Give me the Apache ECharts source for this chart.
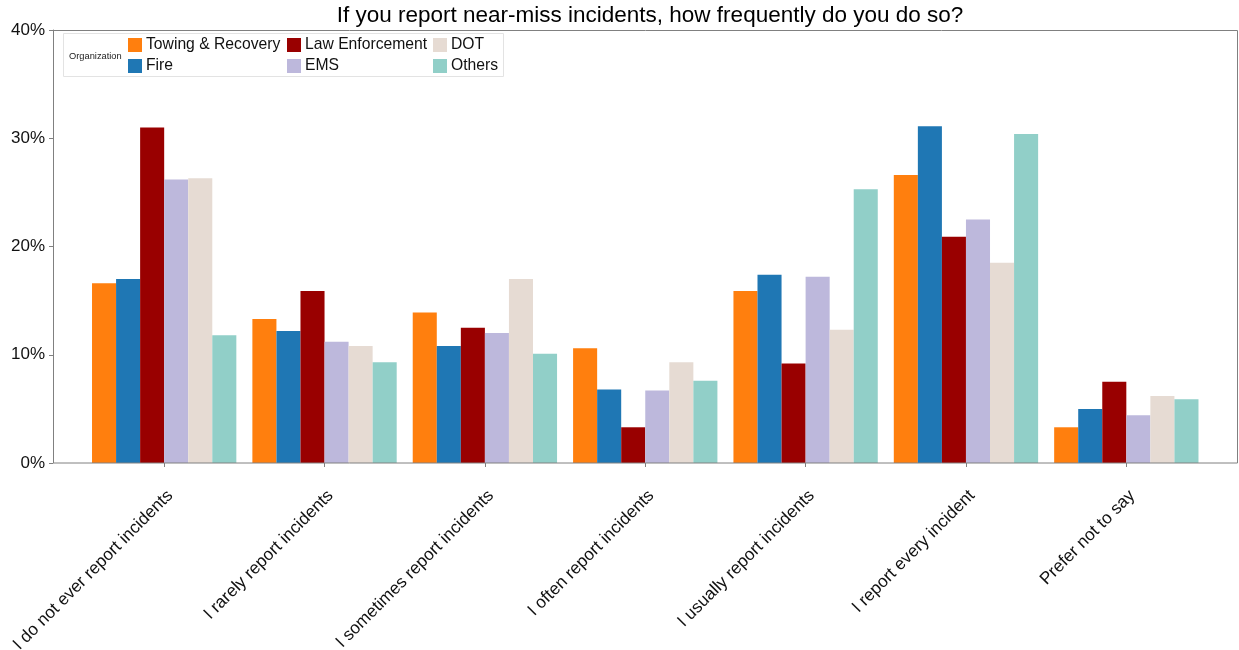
<!DOCTYPE html>
<html>
<head>
<meta charset="utf-8">
<script src="https://cdn.jsdelivr.net/npm/echarts@6.0.0/dist/echarts.min.js"></script>
<style>
  html, body { margin: 0; padding: 0; background: #fff; }
  #chart { width: 1239px; height: 650px; }
</style>
</head>
<body>
<div id="chart"></div>
<script>
const categories = [
  'I do not ever report incidents',
  'I rarely report incidents',
  'I sometimes report incidents',
  'I often report incidents',
  'I usually report incidents',
  'I report every incident',
  'Prefer not to say',
];

// percent values
const towing = [16.6, 13.3, 13.9, 10.6, 15.9, 26.6, 3.3];
const fire = [17.0, 12.2, 10.8, 6.8, 17.4, 31.1, 5.0];
const lawEnforcement = [31.0, 15.9, 12.5, 3.3, 9.2, 20.9, 7.5];
const ems = [26.2, 11.2, 12.0, 6.7, 17.2, 22.5, 4.4];
const dot = [26.3, 10.8, 17.0, 9.3, 12.3, 18.5, 6.2];
const others = [11.8, 9.3, 10.1, 7.6, 25.3, 30.4, 5.9];

const yTicks = [0, 10, 20, 30, 40];

const seriesDefs = [
  { name: 'Towing & Recovery', data: towing, color: '#ff7f0e' },
  { name: 'Fire', data: fire, color: '#1f77b4' },
  { name: 'Law Enforcement', data: lawEnforcement, color: '#990000' },
  { name: 'EMS', data: ems, color: '#bdb8dc' },
  { name: 'DOT', data: dot, color: '#e6dbd3' },
  { name: 'Others', data: others, color: '#91cfc8' },
];

const font = '"Liberation Sans", Arial, sans-serif';
const axisGray = '#808080';

const legendBase = {
  orient: 'vertical',
  top: 37,
  itemWidth: 14,
  itemHeight: 14,
  itemGap: 5,
  icon: 'rect',
  textStyle: { fontFamily: font, fontSize: 15.7, color: '#111', padding: [0, 0, 0, -1] },
  padding: 0,
};

const chart = echarts.init(document.getElementById('chart'));
chart.setOption({
  animation: false,
  title: {
    text: 'If you report near-miss incidents, how frequently do you do so?',
    left: 645,
    textAlign: 'center',
    top: -1,
    textStyle: { fontFamily: font, fontSize: 22.5, fontWeight: 'normal', color: '#000' },
  },
  legend: [
    { ...legendBase, left: 128, data: ['Towing & Recovery', 'Fire'] },
    { ...legendBase, left: 287, data: ['Law Enforcement', 'EMS'] },
    { ...legendBase, left: 433, data: ['DOT', 'Others'] },
  ],
  grid: {
    left: 84,
    right: 32.5,
    top: 30,
    bottom: 187,
    containLabel: false,
    outerBoundsMode: 'none',
  },
  xAxis: {
    type: 'category',
    data: categories,
    axisLine: { show: false },
    axisTick: {
      show: true,
      alignWithLabel: true,
      length: 4,
      lineStyle: { color: axisGray },
    },
    axisLabel: {
      rotate: 45,
      interval: 0,
      margin: 24,
      verticalAlign: 'top',
      fontFamily: font,
      fontSize: 17.2,
      color: '#111',
    },
  },
  yAxis: {
    type: 'value',
    min: 0,
    max: 40,
    interval: 10,
    offset: 31,
    axisLine: { show: true, lineStyle: { color: axisGray } },
    axisTick: { show: true, length: 4, lineStyle: { color: axisGray } },
    splitLine: { show: false },
    axisLabel: {
      margin: 8,
      fontFamily: font,
      fontSize: 17,
      color: '#111',
      formatter: (v) => (yTicks.includes(v) ? v + '%' : ''),
    },
  },
  graphic: [
    {
      type: 'rect',
      shape: { x: 53.5, y: 30.5, width: 1184, height: 432.5 },
      style: { fill: 'none', stroke: axisGray, lineWidth: 1 },
      z: 10,
    },
    {
      type: 'rect',
      shape: { x: 63.5, y: 33.5, width: 440, height: 43 },
      style: { fill: '#fff', stroke: '#e3e3e3', lineWidth: 1 },
      z: 1,
    },
    {
      type: 'text',
      x: 69,
      y: 52,
      style: { text: 'Organization', fontFamily: font, fontSize: 9.3, fill: '#222' },
      z: 2,
    },
  ],
  series: seriesDefs.map((s) => ({
    name: s.name,
    type: 'bar',
    data: s.data,
    barGap: '0%',
    barCategoryGap: '10%',
    itemStyle: { color: s.color },
  })),
});
</script>
</body>
</html>
